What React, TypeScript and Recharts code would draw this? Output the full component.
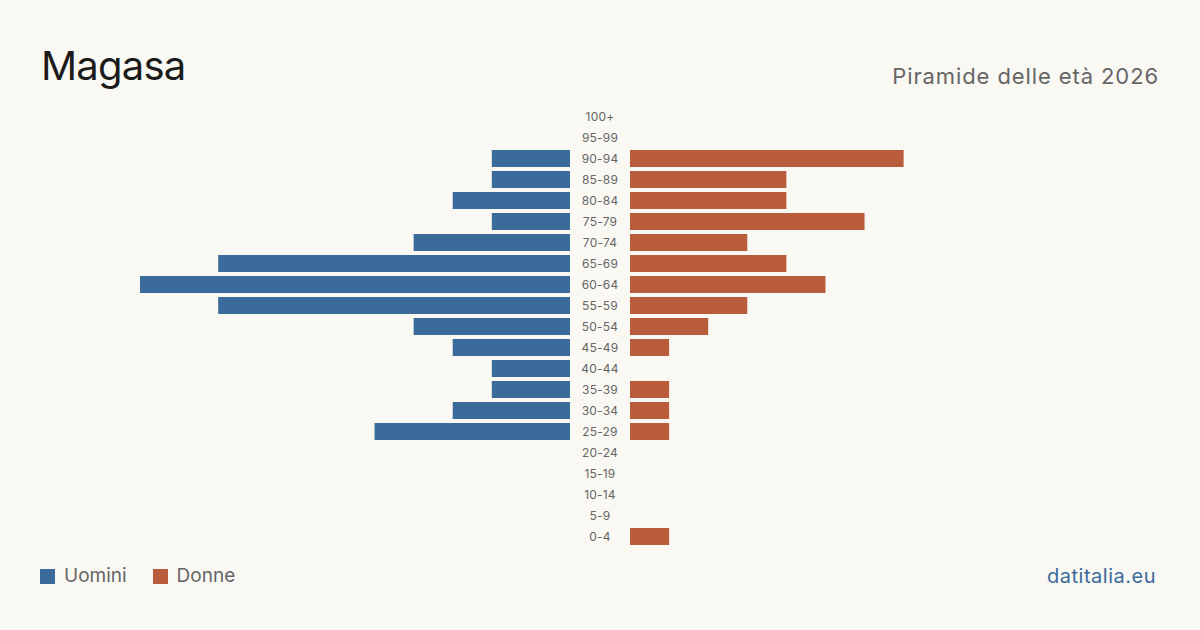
import React from 'react';
import { BarChart, Bar, XAxis, YAxis } from 'recharts';

// age groups, top to bottom
const ageGroups = [
  '100+', '95-99', '90-94', '85-89', '80-84', '75-79', '70-74', '65-69', '60-64', '55-59',
  '50-54', '45-49', '40-44', '35-39', '30-34', '25-29', '20-24', '15-19', '10-14', '5-9', '0-4',
];
const uomini = [0, 0, 2, 2, 3, 2, 4, 9, 11, 9, 4, 3, 2, 2, 3, 5, 0, 0, 0, 0, 0];
const donne = [0, 0, 7, 4, 4, 6, 3, 4, 5, 3, 2, 1, 0, 1, 1, 1, 0, 0, 0, 0, 1];

const MAX_VALUE = 11;
const BLUE = '#3b6b9b';
const ORANGE = '#b95c3c';
const FONT = 'Inter, "Noto Sans", sans-serif';

const rows = ageGroups.map((age, i) => ({ age, uomini: uomini[i], donne: donne[i] }));

const AgeTick = (props: any) => {
  const { y, payload } = props;
  return (
    <text x={30} y={y} dy={4} textAnchor="middle" fontSize={12} fill="#666" fontFamily={FONT} letterSpacing={0.2}>
      {payload.value}
    </text>
  );
};

const App: React.FC = () => {
  return (
    <div style={{ position: 'fixed', left: 0, top: 0, width: 1200, height: 630, background: '#f9f8f3', fontFamily: FONT, overflow: 'hidden' }}>
      <div style={{ position: 'absolute', left: 41, top: 41, fontSize: 40, letterSpacing: -0.8, color: '#1b1b1b', lineHeight: '50px' }}>
        Magasa
      </div>
      <div style={{ position: 'absolute', right: 41, top: 62, fontSize: 22, letterSpacing: 0.9, color: '#666', lineHeight: '28px' }}>
        Piramide delle età 2026
      </div>

      {/* men, growing to the left */}
      <div style={{ position: 'absolute', left: 140, top: 106 }}>
        <BarChart width={430} height={441} data={rows} layout="vertical" margin={{ top: 0, right: 0, bottom: 0, left: 0 }}>
          <XAxis type="number" domain={[0, MAX_VALUE]} reversed hide />
          <YAxis type="category" dataKey="age" hide />
          <Bar dataKey="uomini" fill={BLUE} barSize={17} isAnimationActive={false} />
        </BarChart>
      </div>

      {/* women, growing to the right, age labels in the middle */}
      <div style={{ position: 'absolute', left: 570, top: 106 }}>
        <BarChart width={490} height={441} data={rows} layout="vertical" margin={{ top: 0, right: 0, bottom: 0, left: 0 }}>
          <XAxis type="number" domain={[0, MAX_VALUE]} hide />
          <YAxis type="category" dataKey="age" width={60} interval={0} axisLine={false} tickLine={false} tick={<AgeTick />} />
          <Bar dataKey="donne" fill={ORANGE} barSize={17} isAnimationActive={false} />
        </BarChart>
      </div>

      <div style={{ position: 'absolute', left: 40, top: 564, display: 'flex', alignItems: 'center', fontSize: 19, color: '#666', lineHeight: '24px' }}>
        <span style={{ width: 15, height: 15, background: BLUE, marginRight: 9 }} />
        <span style={{ marginRight: 26 }}>Uomini</span>
        <span style={{ width: 15, height: 15, background: ORANGE, marginRight: 9 }} />
        <span>Donne</span>
      </div>
      <div style={{ position: 'absolute', right: 44, top: 563, fontSize: 20, letterSpacing: 0.5, color: BLUE, lineHeight: '26px' }}>
        datitalia.eu
      </div>
    </div>
  );
};

export default App;
